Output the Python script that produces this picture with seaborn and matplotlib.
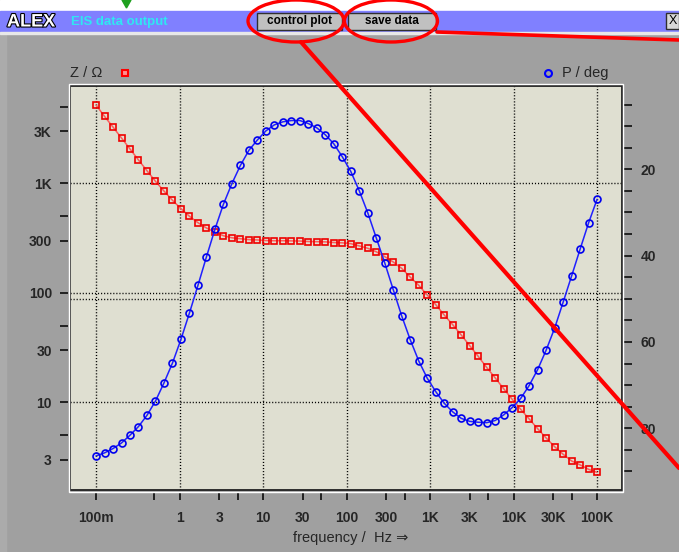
import matplotlib
matplotlib.use('Agg')
import matplotlib.pyplot as plt
import matplotlib.patheffects as pe
from matplotlib.patches import Rectangle, Ellipse, Polygon
from matplotlib.lines import Line2D
from matplotlib.ticker import FixedLocator, FixedFormatter
import seaborn as sns

# 测量频率 (Hz)
freq = [0.1, 0.1264, 0.1597, 0.2019, 0.2551, 0.3224, 0.4075, 0.515, 0.6509, 0.8226,
        1.04, 1.314, 1.661, 2.099, 2.653, 3.353, 4.238, 5.356, 6.769, 8.555,
        10.81, 13.66, 17.27, 21.83, 27.59, 34.87, 44.07, 55.69, 70.39, 88.96,
        112.4, 142.1, 179.6, 226.9, 286.8, 362.5, 458.1, 579.0, 731.8, 924.9,
        1169, 1477, 1867, 2360, 2982, 3769, 4764, 6021, 7610, 9618,
        12155, 15363, 19417, 24541, 31016, 39200, 49544, 62617, 79141, 100000]

# 阻抗 |Z| (Ohm)
z_ohm = [5190, 4090, 3265, 2593, 2060, 1635, 1303, 1043, 851, 700,
         587, 500, 437, 391, 358, 332, 318, 312, 306, 304,
         300, 299, 299, 298, 297, 294, 293, 292, 288, 286,
         281, 268, 255, 237, 214, 191, 167, 139, 117, 95.5,
         77.9, 62.7, 51.1, 41.2, 32.9, 26.3, 20.8, 16.7, 13.3, 10.65,
         8.63, 7.04, 5.74, 4.72, 3.93, 3.35, 2.91, 2.68, 2.44, 2.29]

# 相位 (deg)
phase_deg = [86.4, 85.7, 84.7, 83.4, 81.6, 79.6, 77.0, 73.7, 69.5, 64.9,
             59.4, 53.3, 46.9, 40.3, 33.9, 28.1, 23.3, 19.1, 15.6, 13.2,
             11.1, 9.7, 9.0, 8.7, 8.7, 9.4, 10.4, 12.0, 14.1, 17.1,
             20.5, 25.0, 30.1, 35.9, 41.7, 47.9, 54.0, 59.5, 64.4, 68.4,
             71.5, 74.2, 76.2, 77.7, 78.4, 78.6, 78.7, 78.2, 76.9, 75.2,
             73.1, 70.1, 66.4, 61.9, 56.8, 50.8, 44.7, 38.5, 32.4, 26.95]

# 刻度
x_major = [0.1, 1, 10, 100, 1e3, 1e4, 1e5]
x_major_labels = ['100m', '1', '10', '100', '1K', '10K', '100K']
x_minor = [0.5, 3, 5, 30, 50, 300, 500, 3e3, 5e3, 3e4, 5e4]
x_minor_labels = ['', '3', '', '30', '', '300', '', '3K', '', '30K', '']
z_major = [10, 100, 1000]
z_major_labels = ['10', '100', '1K']
z_minor = [3, 5, 30, 50, 300, 500, 3000, 5000]
z_minor_labels = ['3', '', '30', '', '300', '', '3K', '']
p_ticks = list(range(5, 95, 5))
p_labels = [str(t) if t % 20 == 0 else '' for t in p_ticks]

W, H = 679, 552
sns.set_style('white')
plt.rcParams['font.family'] = ['Liberation Sans', 'DejaVu Sans']
plt.rcParams['font.weight'] = 'bold'


def fx(x):
    return x / W


def fy(y):
    return 1 - y / H


fig = plt.figure(figsize=(W / 100, H / 100), dpi=100, facecolor='#a0a0a0')

ax = fig.add_axes([fx(70), fy(490), fx(621.5) - fx(70), fy(86) - fy(490)])
ax.set_facecolor('#dfdfd1')
ax2 = ax.twinx()

dots = (0, (0.8, 1.4))

sns.lineplot(x=freq, y=z_ohm, ax=ax, color='#ff5a5a', lw=1.1, marker='s',
             markersize=4.5, markerfacecolor='none', markeredgecolor='#ee0000',
             markeredgewidth=1.2, legend=False, zorder=3)
sns.lineplot(x=freq, y=phase_deg, ax=ax2, color='#2020ff', lw=1.1, marker='o',
             markersize=5, markerfacecolor='none', markeredgecolor='#0000ee',
             markeredgewidth=1.2, legend=False, zorder=3)

ax.set_xscale('log')
ax.set_yscale('log')
ax.set_xlim(0.0488, 196000)
ax.set_ylim(1.58, 7745)
ax2.set_ylim(94.3, 0.7)

ax.xaxis.set_major_locator(FixedLocator(x_major))
ax.xaxis.set_major_formatter(FixedFormatter(x_major_labels))
ax.xaxis.set_minor_locator(FixedLocator(x_minor))
ax.xaxis.set_minor_formatter(FixedFormatter(x_minor_labels))
ax.yaxis.set_major_locator(FixedLocator(z_major))
ax.yaxis.set_major_formatter(FixedFormatter(z_major_labels))
ax.yaxis.set_minor_locator(FixedLocator(z_minor))
ax.yaxis.set_minor_formatter(FixedFormatter(z_minor_labels))
ax2.yaxis.set_major_locator(FixedLocator(p_ticks))
ax2.yaxis.set_major_formatter(FixedFormatter(p_labels))

ax.set_xlabel('')
ax.set_ylabel('')
ax2.set_ylabel('')

ax.tick_params(axis='x', which='both', direction='out', length=5.5, width=1.1,
               color='black', labelsize=10, pad=8, bottom=True)
ax.tick_params(axis='y', which='both', direction='out', length=5.5, width=1.1,
               color='black', labelsize=10, pad=6, left=True)
ax2.tick_params(axis='y', which='major', direction='out', length=6, width=1.1,
                color='black', labelsize=10, pad=6.5, right=True)

for a in (ax, ax2):
    for s in a.spines.values():
        s.set_visible(False)
ax.spines['left'].set_position(('outward', 1.5))
ax.spines['bottom'].set_position(('outward', 1.5))
ax2.spines['right'].set_position(('outward', 1.5))

# 网格
ax.set_axisbelow(True)
ax.grid(which='major', axis='both', color='black', linestyle=dots, lw=1.0)
ax.grid(which='minor', visible=False)
ax2.axhline(50, color='black', linestyle=dots, lw=1.0, zorder=0)

# 边框
ax.add_patch(Rectangle((0, 0), 1, 1, transform=ax.transAxes, fill=False,
                       edgecolor='#202020', lw=1.3, clip_on=False, zorder=10))
fig.add_artist(Rectangle((fx(68.5), fy(491.5)), fx(623) - fx(68.5), fy(84.5) - fy(491.5),
                         fill=False, edgecolor='white', lw=1.0, zorder=0.5))

# 轴名
fig.text(fx(70), fy(73), 'Z / Ω', fontsize=10.5, fontweight='normal', va='center', ha='left')
fig.add_artist(Line2D([fx(125)], [fy(73)], marker='s', ms=4.5, mfc='#ff9090',
                      mec='#ff0000', mew=1.5, ls='none'))
fig.text(fx(562), fy(73), 'P / deg', fontsize=10.5, fontweight='normal', va='center', ha='left')
fig.add_artist(Line2D([fx(548)], [fy(73)], marker='o', ms=5, mfc='none',
                      mec='#0000ff', mew=1.5, ls='none'))
fig.text(fx(351), fy(538), 'frequency /  Hz ⇒', fontsize=10.5, fontweight='normal',
         va='center', ha='center')

# 窗口标题栏
fig.add_artist(Rectangle((0, 0), fx(6), fy(33.5), color='#ababab', zorder=0.1))
fig.add_artist(Rectangle((0, fy(11)), 1, fy(0) - fy(11), color='white', zorder=0.1))
fig.add_artist(Rectangle((0, fy(32)), 1, fy(11) - fy(32), color='#8080ff', zorder=0.2))
fig.add_artist(Rectangle((0, fy(33.5)), 1, fy(32) - fy(33.5), color='#e8e8e8', zorder=0.2))
fig.add_artist(Polygon([(fx(122), fy(0)), (fx(131), fy(0)), (fx(126.5), fy(8))],
                       closed=True, color='#1fa01f', zorder=0.3))
fig.text(fx(7), fy(22), 'ALEX', fontsize=13, color='white', fontweight='bold', va='center',
         path_effects=[pe.withStroke(linewidth=1.6, foreground='black')])
fig.text(fx(71), fy(22), 'EIS data output', fontsize=9.5, color='#30e6f2', fontweight='bold',
         va='center')
for x0, x1, label in [(257, 342, 'control plot'), (348, 436, 'save data')]:
    fig.add_artist(Rectangle((fx(x0), fy(29.5)), fx(x1) - fx(x0), fy(13) - fy(29.5),
                             facecolor='#c0c0c0', edgecolor='#303030', lw=1.0, zorder=0.4))
    fig.text(fx((x0 + x1) / 2), fy(21), label, fontsize=8.5, color='black',
             fontweight='bold', va='center', ha='center')
fig.add_artist(Rectangle((fx(666), fy(29)), fx(679) - fx(666), fy(13) - fy(29),
                         facecolor='#d8d8d8', edgecolor='#303030', lw=1.0, zorder=0.4))
fig.text(fx(672.5), fy(21), 'X', fontsize=9, color='black', va='center', ha='center',
         fontweight='normal')

# 红色标注
fig.add_artist(Ellipse((fx(296), fy(21)), fx(96), 42 / H, fill=False, edgecolor='#ff0000',
                       lw=2.4, zorder=5))
fig.add_artist(Ellipse((fx(391), fy(21)), fx(93), 42 / H, fill=False, edgecolor='#ff0000',
                       lw=2.4, zorder=5))
fig.add_artist(Line2D([fx(437), fx(679)], [fy(32), fy(40)], color='#ff0000', lw=2.6, zorder=5))
fig.add_artist(Line2D([fx(301), fx(679)], [fy(42), fy(468)], color='#ff0000', lw=3.0, zorder=5))

plt.savefig('out.png', dpi=100, facecolor=fig.get_facecolor())
